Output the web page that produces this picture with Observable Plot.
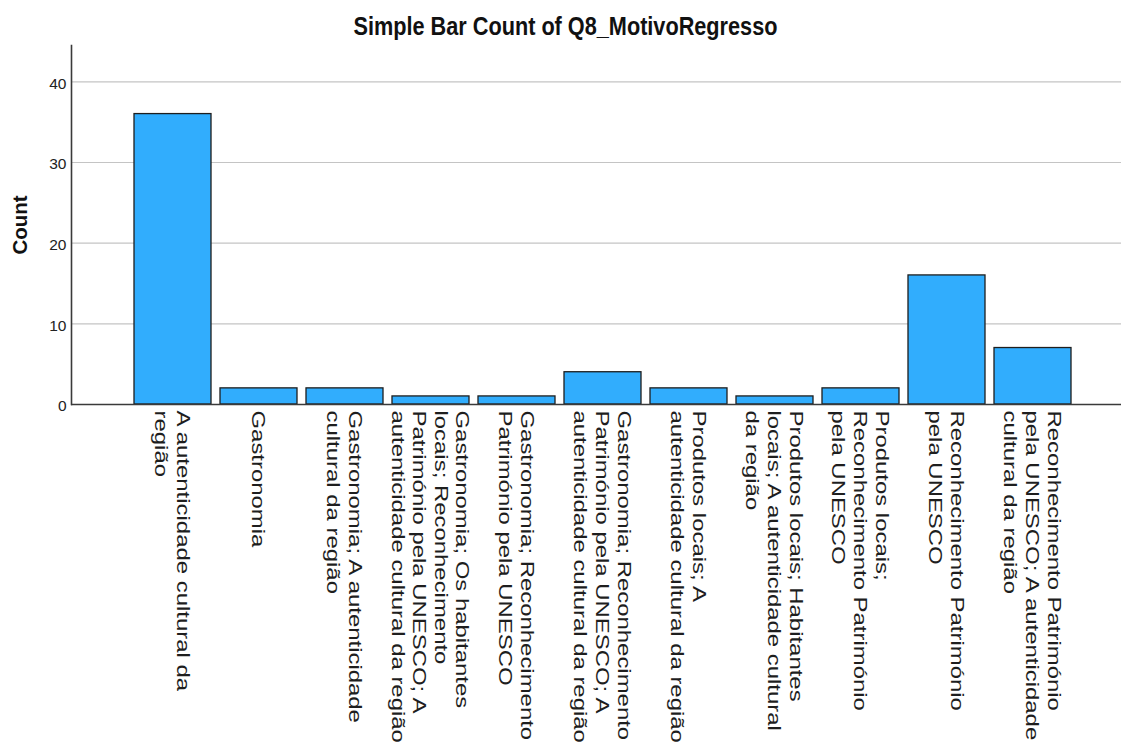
<!DOCTYPE html>
<html><head><meta charset="utf-8">
<script src="https://cdn.jsdelivr.net/npm/d3@7"></script>
<script src="https://cdn.jsdelivr.net/npm/@observablehq/plot@0.6"></script>
<style>
body{margin:0;background:#fff;}
#title{height:40px;width:1121px;text-align:center;font:bold 25px "Liberation Sans",Arial,sans-serif;line-height:52px;color:#111;overflow:visible;white-space:nowrap;padding-left:9px;box-sizing:border-box}
#title span{display:inline-block;transform:scaleX(0.867);transform-origin:center}
</style></head><body>
<div id="title"><span>Simple Bar Count of Q8_MotivoRegresso</span></div>
<div id="chart"></div>
<script>
const categories = [
  "A autenticidade cultural da região",
  "Gastronomia",
  "Gastronomia; A autenticidade cultural da região",
  "Gastronomia; Os habitantes locais; Reconhecimento Património pela UNESCO; A autenticidade cultural da região",
  "Gastronomia; Reconhecimento Património pela UNESCO",
  "Gastronomia; Reconhecimento Património pela UNESCO; A autenticidade cultural da região",
  "Produtos locais; A autenticidade cultural da região",
  "Produtos locais; Habitantes locais; A autenticidade cultural da região",
  "Produtos locais; Reconhecimento Património pela UNESCO",
  "Reconhecimento Património pela UNESCO",
  "Reconhecimento Património pela UNESCO; A autenticidade cultural da região"
];
const counts = [36, 2, 2, 1, 1, 4, 2, 1, 2, 16, 7];
const tickLabels = [
  "A autenticidade cultural da\nregião",
  "Gastronomia",
  "Gastronomia; A autenticidade\ncultural da região",
  "Gastronomia; Os habitantes\nlocais; Reconhecimento\nPatrimónio pela UNESCO; A\nautenticidade cultural da região",
  "Gastronomia; Reconhecimento\nPatrimónio pela UNESCO",
  "Gastronomia; Reconhecimento\nPatrimónio pela UNESCO; A\nautenticidade cultural da região",
  "Produtos locais; A\nautenticidade cultural da região",
  "Produtos locais; Habitantes\nlocais; A autenticidade cultural\nda região",
  "Produtos locais;\nReconhecimento Património\npela UNESCO",
  "Reconhecimento Património\npela UNESCO",
  "Reconhecimento Património\npela UNESCO; A autenticidade\ncultural da região"
];
const yTicks = [0, 10, 20, 30, 40];
const yLabel = "Count";

const data = categories.map((c, i) => ({category: c, count: counts[i]}));
const labelOf = new Map(categories.map((c, i) => [c, tickLabels[i]]));

const plot = Plot.plot({
  width: 1121, height: 707,
  marginTop: 5, marginBottom: 343, marginLeft: 71, marginRight: 0,
  style: {fontFamily: '"Liberation Sans", Arial, sans-serif', background: "#fff", color: "#222", overflow: "visible"},
  x: {domain: categories, range: [122.3, 1083.6], padding: 0.1, axis: null},
  y: {domain: [0, 44.5], axis: null},
  marks: [
    Plot.ruleY(yTicks.filter(d => d > 0), {stroke: "#c4c4c4", strokeWidth: 1.2}),
    Plot.barY(data, {x: "category", y: "count", fill: "#31adfd", stroke: "#1e1e1e", strokeWidth: 1.3}),
    Plot.frame({anchor: "left", stroke: "#3a3a3a", strokeWidth: 1.6}),
    Plot.ruleY([0], {stroke: "#3a3a3a", strokeWidth: 1.6}),
    Plot.axisY({ticks: yTicks, tickSize: 0, tickPadding: 5, fontSize: 15.5, dy: 2, label: null, fill: "#222"}),
    Plot.axisY({ticks: [], label: yLabel, labelAnchor: "center", labelArrow: "none", labelOffset: 59, dy: -4,
      fontSize: 20.5, fontWeight: "bold", fill: "#111"}),
    Plot.axisX({tickSize: 0, tickPadding: 6, tickRotate: 90, textAnchor: "start", lineAnchor: "middle",
      fontSize: 18, lineHeight: 1.2, tickFormat: d => labelOf.get(d), label: null, fill: "#1e1e1e"})
  ]
});
plot.querySelectorAll('g[aria-label="x-axis tick label"] text').forEach(t => {
  t.setAttribute("transform", (t.getAttribute("transform") || "") + " scale(1.33,1)");
});
document.getElementById("chart").appendChild(plot);
</script>
</body></html>
